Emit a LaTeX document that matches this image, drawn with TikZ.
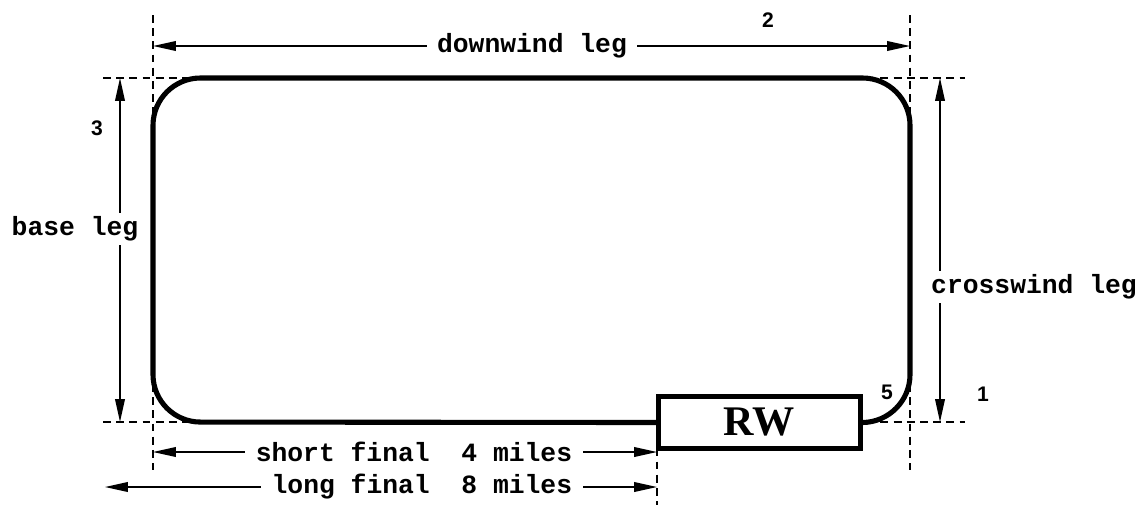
\documentclass[tikz,border=0pt]{standalone}
\usepackage{fontspec}
\setmainfont{Liberation Serif}
\newfontfamily\legfont{Liberation Mono}
\newfontfamily\numfont{Liberation Sans}
\usetikzlibrary{arrows.meta}

\tikzset{
    leg/.style={font=\legfont\bfseries\fontsize{15}{18}\selectfont, fill=white, inner xsep=6pt, inner ysep=2pt},
    num/.style={font=\numfont\bfseries\fontsize{12}{14}\selectfont},
    guide/.style={black, line width=0.7pt, dash pattern=on 4.5pt off 3pt},
    dim/.style={black, line width=0.8pt, {Triangle[length=13pt,width=5.5pt]}-{Triangle[length=13pt,width=5.5pt]}},
    route/.style={black, line width=2.9pt, rounded corners=27pt},
}

\begin{document}
\begin{tikzpicture}[x=0.02cm, y=-0.02cm]
    \useasboundingbox (0,0) rectangle (1141,511);
    % Dashed guide lines.
        \draw[guide] (153,15) -- (153,470);
        \draw[guide] (910,15) -- (910,470);
        \draw[guide] (657,422) -- (657,505);
        \draw[guide] (103,78) -- (965,78);
        \draw[guide] (103,422) -- (965,422);
    % Ends of the leg arrows.
        \coordinate (dwL) at (153,46);
        \coordinate (dwR) at (910,46);
        \coordinate (baseT) at (120,78);
        \coordinate (baseB) at (120,422);
        \coordinate (cwT) at (940,78);
        \coordinate (cwB) at (940,422);
        \coordinate (shortL) at (153,452);
        \coordinate (shortR) at (657,452);
        \coordinate (longL) at (105,487);
        \coordinate (longR) at (657,487);
    % The leg arrows.
        \draw[dim] (dwL) -- (dwR);
        \draw[dim] (baseT) -- (baseB);
        \draw[dim] (cwT) -- (cwB);
        \draw[dim] (shortL) -- (shortR);
        \draw[dim] (longL) -- (longR);
    % Below nodes are the labels.
        \node[leg] (downwind) at (532,46) {downwind leg};
        \node[leg] (base) at (75,229) {base leg};
        \node[leg] (crosswind) at (1034,287) {crosswind leg};
        \node[leg, anchor=east] (short) at (583,452) {short final\ \ 4 miles};
        \node[leg, anchor=east] (long) at (583,487) {long final\ \ 8 miles};
        \node[num] (p1) at (983,394) {1};
        \node[num] (p2) at (768,20) {2};
        \node[num] (p3) at (97,128) {3};
        \node[num] (p5) at (887,392) {5};
    % The runway and the circuit round it.
        \node[draw, fill=white, line width=2.6pt, minimum width=4.05cm, minimum height=1.05cm,
              font=\bfseries\fontsize{24}{26}\selectfont] (rw) at (759.5,422.5) {RW};
        \draw[route] (rw.west) -- (153,422) -- (153,78) -- (910,78) -- (910,422) -- (rw.east);
\end{tikzpicture}
\end{document}
